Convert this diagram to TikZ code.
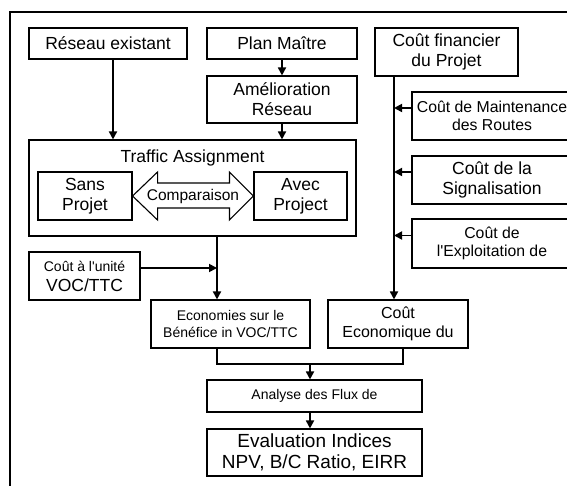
\documentclass[tikz,border=0pt]{standalone}
\usepackage{fontspec}
\setmainfont{Liberation Sans}
\usetikzlibrary{positioning, arrows.meta, calc}
\newcommand{\tgrand}{\fontsize{17.5}{20}\selectfont}
\newcommand{\tmoyen}{\fontsize{15.8}{18.5}\selectfont}
\newcommand{\tpetit}{\fontsize{14}{17}\selectfont}
\newcommand{\tindice}{\fontsize{19}{21}\selectfont}
\newcommand{\apos}{\textquotesingle}
\tikzset{
	>={Triangle[length=8pt, width=8pt]},
	% boîte générique
	boite/.style={draw, line width=1.1pt, rectangle, inner sep=0pt, align=center, font=\tgrand},
	% flèche entre boîtes
	fleche/.style={->, line width=1.7pt},
	% liaison sans flèche
	liaison/.style={line width=1.3pt},
	% cadre extérieur
	cadre/.style={line width=2.4pt},
}

\begin{document}
\begin{tikzpicture}[x=1pt, y=-1pt]
    \useasboundingbox (0,0) rectangle (567,486);
    \clip (0,0) rectangle (567,486);
    \draw[cadre] (10,12) rectangle (600,520);
    % colonne gauche
    \node[boite, minimum width=158, minimum height=31] (resx) at (108,43.5) {Réseau existant};
    \node[boite, minimum width=150, minimum height=31] (plan) at (282,43.5) {Plan Maître};
    \node[boite, minimum width=150, minimum height=47] (amel) at (282,99.5) {Amélioration\\Réseau};
    \node[boite, minimum width=327, minimum height=96] (traffic) at (192.5,188) {};
    \node[inner sep=0pt, font=\tgrand, below=10pt of traffic.north] (trtitre) {Traffic Assignment};
    \node[boite, minimum width=94, minimum height=48] (sans) at (85,196) {Sans\\Projet};
    \node[boite, minimum width=93, minimum height=48] (avec) at (300.5,196) {Avec\\Project};
    \node[inner sep=0pt, font=\fontsize{15.5}{18}\selectfont] (cmp) at ($(sans.east)!0.5!(avec.west)$) {Comparaison};
    \draw[line width=1.1pt] (sans.east) -- ++(25,-24) -- ++(0,11) -- ($(avec.west)+(-24,-13)$) -- ++(0,-11)
      -- (avec.west) -- ++(-24,24) -- ++(0,-12) -- ($(sans.east)+(25,12)$) -- ++(0,12) -- cycle;
    % colonne droite
    \node[boite, minimum width=143, minimum height=48] (fin) at (446.5,52) {Coût financier\\du Projet};
    \node[boite, minimum width=160, minimum height=48, font=\tmoyen] (maint) at (492,116) {Coût de Maintenance\\des Routes};
    \node[boite, minimum width=160, minimum height=48] (signal) at (492,180) {Coût de la\\Signalisation};
    \node[boite, minimum width=160, minimum height=49, font=\tmoyen] (exploit) at (492,243.5) {Coût de\\l\apos Exploitation de};
    % partie basse
    \node[boite, minimum width=111, minimum height=48] (unite) at (84.5,276) {{\tpetit Coût à l\apos unité}\\VOC/TTC};
    \node[boite, minimum width=159, minimum height=48, font=\tpetit] (econ) at (230.5,324) {Economies sur le\\Bénéfice in VOC/TTC};
    \node[boite, minimum width=140, minimum height=48, font=\fontsize{16}{19}\selectfont] (ceco) at (398,324) {Coût\\Economique du};
    \node[boite, minimum width=215, minimum height=32, font=\tpetit] (analyse) at (314.5,396) {Analyse des Flux de};
    \node[boite, minimum width=215, minimum height=47, font=\tindice] (eval) at (314.5,452.5) {Evaluation Indices\\NPV, B/C Ratio, EIRR};
    % repères des lignes verticales
    \coordinate (colA) at (217,0);
    \coordinate (colB) at (394,0);
    \coordinate (jn) at (310,364);
    % liaisons
    \draw[fleche] ([xshift=5pt]resx.south) -- ([xshift=5pt]resx.south |- traffic.north);
    \draw[fleche] (plan.south) -- (amel.north);
    \draw[fleche] (amel.south) -- (amel.south |- traffic.north);
    \draw[fleche] (traffic.south -| colA) -- (econ.north -| colA);
    \draw[fleche] ([yshift=8pt]unite.east) -- ([yshift=8pt]unite.east -| colA);
    \draw[fleche] (fin.south -| colB) -- (ceco.north -| colB);
    \foreach \n in {maint,signal,exploit}
      \draw[fleche] ([yshift=8pt]\n.west) -- ([yshift=8pt]\n.west -| colB);
    \draw[liaison] (econ.south -| colA) |- (jn) -| ([xshift=5pt]ceco.south);
    \draw[fleche] (jn) -- (jn |- analyse.north);
    \draw[fleche] (jn |- analyse.south) -- (jn |- eval.north);
\end{tikzpicture}
\end{document}
